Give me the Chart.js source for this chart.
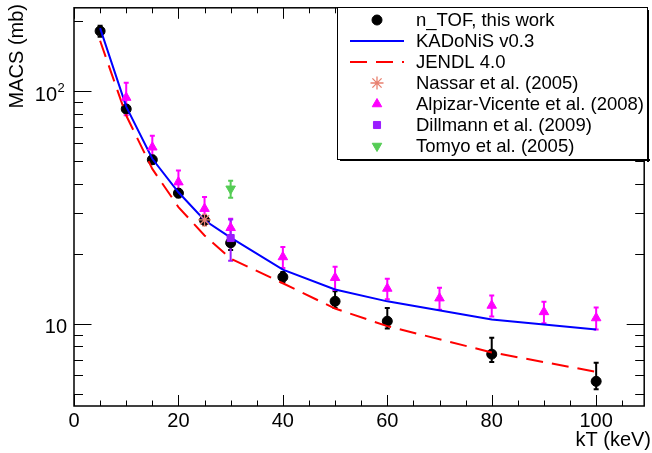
<!DOCTYPE html>
<html>
<head>
<meta charset="utf-8">
<script src="https://cdn.jsdelivr.net/npm/chart.js@4.4.1/dist/chart.umd.min.js"></script>
<style>
  body { margin: 0; background: #fff; }
</style>
</head>
<body>
<canvas id="macs" width="652" height="453"></canvas>
<script>
// n_TOF, this work
const ntofKT = [5, 10, 15, 20, 25, 30, 40, 50, 60, 80, 100];
const ntofMacs = [181.6, 84.0, 50.8, 36.5, 27.9, 22.3, 15.9, 12.5, 10.27, 7.41, 5.66];
const ntofErrUp = [10, 3, 2, 1.5, 1.0, 1.5, 0.8, 1.3, 1.44, 1.3, 1.14];
const ntofErrDown = [10, 3, 2, 1.5, 1.0, 1.5, 0.8, 0.8, 0.72, 0.56, 0.43];

// evaluated curves
const curveKT = [5, 10, 15, 20, 25, 30, 40, 50, 60, 80, 100];
const kadonis = [187, 86, 51.3, 36.8, 27.9, 23.5, 17.1, 14.05, 12.5, 10.45, 9.46];
const jendl = [165, 78.7, 46.4, 31.8, 24.0, 19.1, 14.95, 11.64, 9.78, 7.54, 6.22];

// other measurements
const nassarKT = [25];
const nassarMacs = [28.0];
const nassarErr = [1.5];

const alpizarKT = [10, 15, 20, 25, 30, 40, 50, 60, 70, 80, 90, 100];
const alpizarMacs = [94, 57.5, 40.7, 31.3, 25.9, 19.4, 15.8, 14.2, 12.9, 12.0, 11.26, 10.6];
const alpizarErr = [15, 7, 5, 3.8, 2.4, 2.0, 1.8, 1.45, 1.4, 1.25, 1.2, 1.15];

const dillmannKT = [30];
const dillmannMacs = [23.4];
const dillmannErr = [4.7];

const tomyoKT = [30];
const tomyoMacs = [38.1];
const tomyoErr = [3.2];

const xTicks = [0, 20, 40, 60, 80, 100];

const FONT = '"Liberation Sans", Arial, sans-serif';

function pts(xs, ys) {
    return xs.map(function (x, i) { return { x: x, y: ys[i] }; });
}

const errorBars = [
    { kt: ntofKT, v: ntofMacs, up: ntofErrUp, down: ntofErrDown, color: '#000000' },
    { kt: nassarKT, v: nassarMacs, up: nassarErr, down: nassarErr, color: '#e8806f' },
    { kt: alpizarKT, v: alpizarMacs, up: alpizarErr, down: alpizarErr, color: '#ff00ff' },
    { kt: dillmannKT, v: dillmannMacs, up: dillmannErr, down: dillmannErr, color: '#9a1cff' },
    { kt: tomyoKT, v: tomyoMacs, up: tomyoErr, down: tomyoErr, color: '#55cc55' },
];

const rootPlugin = {
    id: 'rootStyle',
    beforeDatasetsDraw: function (chart) {
        const ctx = chart.ctx;
        const xs = chart.scales.x, ys = chart.scales.y;
        ctx.save();
        ctx.lineWidth = 2;
        errorBars.forEach(function (s) {
            ctx.strokeStyle = s.color;
            s.kt.forEach(function (k, i) {
                const px = xs.getPixelForValue(k);
                const yt = ys.getPixelForValue(s.v[i] + s.up[i]);
                const yb = ys.getPixelForValue(s.v[i] - s.down[i]);
                ctx.beginPath();
                ctx.moveTo(px, yt); ctx.lineTo(px, yb);
                ctx.moveTo(px - 2.5, yt); ctx.lineTo(px + 2.5, yt);
                ctx.moveTo(px - 2.5, yb); ctx.lineTo(px + 2.5, yb);
                ctx.stroke();
            });
        });
        ctx.restore();
    },
    afterDraw: function (chart) {
        const ctx = chart.ctx;
        const a = chart.chartArea;
        const xs = chart.scales.x, ys = chart.scales.y;
        ctx.save();

        // frame
        ctx.strokeStyle = '#000';
        ctx.lineWidth = 1.5;
        ctx.strokeRect(a.left, a.top, a.right - a.left, a.bottom - a.top);

        // x ticks, bottom and top, inward
        ctx.lineWidth = 1;
        for (let v = 0; v <= 105; v += 5) {
            const px = Math.round(xs.getPixelForValue(v)) + 0.5;
            const len = v % 20 === 0 ? 11 : 5.5;
            ctx.beginPath();
            ctx.moveTo(px, a.bottom); ctx.lineTo(px, a.bottom - len);
            ctx.moveTo(px, a.top); ctx.lineTo(px, a.top + len);
            ctx.stroke();
        }
        // y ticks, log
        [5, 6, 7, 8, 9, 10, 20, 30, 40, 50, 60, 70, 80, 90, 100, 200].forEach(function (v) {
            const py = Math.round(ys.getPixelForValue(v)) + 0.5;
            const len = (v === 10 || v === 100) ? 17.5 : 9;
            ctx.beginPath();
            ctx.moveTo(a.left, py); ctx.lineTo(a.left + len, py);
            ctx.moveTo(a.right, py); ctx.lineTo(a.right - len, py);
            ctx.stroke();
        });

        // tick labels
        ctx.fillStyle = '#000';
        ctx.font = '20px ' + FONT;
        ctx.textAlign = 'center';
        ctx.textBaseline = 'alphabetic';
        xTicks.forEach(function (v) {
            ctx.fillText(String(v), xs.getPixelForValue(v), a.bottom + 21);
        });
        ctx.textAlign = 'right';
        const y10 = ys.getPixelForValue(10);
        ctx.fillText('10', 67, y10 + 9.5);
        const y100 = ys.getPixelForValue(100);
        ctx.fillText('10', 57, y100 + 9.5);
        ctx.font = '13px ' + FONT;
        ctx.textAlign = 'left';
        ctx.fillText('2', 57.5, y100 + 0.5);

        // axis titles
        ctx.font = '20px ' + FONT;
        ctx.textAlign = 'right';
        ctx.textBaseline = 'middle';
        ctx.fillText('kT (keV)', 651, 440);
        ctx.save();
        ctx.translate(17, 4);
        ctx.rotate(-Math.PI / 2);
        ctx.textAlign = 'right';
        ctx.fillText('MACS (mb)', 0, 0);
        ctx.restore();

        // legend box
        const lx = 337, ly = 7, lw = 310, lh = 152;
        ctx.fillStyle = '#000';
        ctx.fillRect(lx + 3, ly + lh, lw, 2);
        ctx.fillRect(lx + lw, ly + 3, 2, lh);
        ctx.fillStyle = '#fff';
        ctx.fillRect(lx, ly, lw, lh);
        ctx.strokeStyle = '#000';
        ctx.lineWidth = 1;
        ctx.strokeRect(lx + 0.5, ly + 0.5, lw, lh);

        const symX = 377, textX = 416;
        ctx.font = '18.5px ' + FONT;
        ctx.textBaseline = 'middle';
        ctx.textAlign = 'left';
        chart.data.datasets.forEach(function (ds) {
            const row = ds.legendRow;
            const cy = 20 + row * 21;
            ctx.save();
            if (ds.showLine) {
                ctx.strokeStyle = ds.borderColor;
                ctx.lineWidth = ds.borderWidth;
                ctx.setLineDash(ds.borderDash || []);
                ctx.beginPath();
                ctx.moveTo(350, cy); ctx.lineTo(404, cy);
                ctx.stroke();
            } else {
                ctx.fillStyle = ds.backgroundColor;
                ctx.strokeStyle = ds.borderColor;
                ctx.lineWidth = ds.borderWidth || 1;
                Chart.helpers.drawPoint(ctx, {
                    pointStyle: ds.pointStyle,
                    rotation: ds.rotation || 0,
                    radius: ds.pointRadius,
                    borderWidth: ds.borderWidth || 1
                }, symX, cy);
            }
            ctx.restore();
            ctx.fillStyle = '#000';
            ctx.fillText(ds.label, textX, cy + 1);
        });

        ctx.restore();
    }
};

document.addEventListener("DOMContentLoaded", function () {

    const canvas = document.getElementById("macs");

    // lower order is drawn on top (same stacking as the legend order)
    new Chart(canvas, {
        type: "scatter",
        data: {
            datasets: [
                {
                    label: "n_TOF, this work",
                    legendRow: 0,
                    order: 7,
                    data: pts(ntofKT, ntofMacs),
                    pointStyle: 'circle',
                    pointRadius: 5,
                    backgroundColor: '#000000',
                    borderColor: '#000000',
                    borderWidth: 1,
                },
                {
                    label: "KADoNiS v0.3",
                    legendRow: 1,
                    order: 6,
                    data: pts(curveKT, kadonis),
                    showLine: true,
                    pointRadius: 0,
                    borderColor: '#0000ff',
                    borderWidth: 2,
                    tension: 0,
                },
                {
                    label: "JENDL 4.0",
                    legendRow: 2,
                    order: 5,
                    data: pts(curveKT, jendl),
                    showLine: true,
                    pointRadius: 0,
                    borderColor: '#ff0000',
                    borderWidth: 2,
                    borderDash: [17, 9],
                    tension: 0,
                },
                {
                    label: "Nassar et al. (2005)",
                    legendRow: 3,
                    order: 4,
                    data: pts(nassarKT, nassarMacs),
                    pointStyle: 'star',
                    pointRadius: 6.5,
                    backgroundColor: '#e8806f',
                    borderColor: '#e8806f',
                    borderWidth: 1.3,
                },
                {
                    label: "Alpizar-Vicente et al. (2008)",
                    legendRow: 4,
                    order: 3,
                    data: pts(alpizarKT, alpizarMacs),
                    pointStyle: 'triangle',
                    pointRadius: 5.5,
                    backgroundColor: '#ff00ff',
                    borderColor: '#ff00ff',
                    borderWidth: 1,
                },
                {
                    label: "Dillmann et al. (2009)",
                    legendRow: 5,
                    order: 2,
                    data: pts(dillmannKT, dillmannMacs),
                    pointStyle: 'rect',
                    pointRadius: 5,
                    backgroundColor: '#9a1cff',
                    borderColor: '#9a1cff',
                    borderWidth: 1,
                },
                {
                    label: "Tomyo et al. (2005)",
                    legendRow: 6,
                    order: 1,
                    data: pts(tomyoKT, tomyoMacs),
                    pointStyle: 'triangle',
                    rotation: 180,
                    pointRotation: 180,
                    pointRadius: 5.5,
                    backgroundColor: '#55cc55',
                    borderColor: '#55cc55',
                    borderWidth: 1,
                },
            ],
        },
        options: {
            responsive: false,
            animation: false,
            layout: {
                padding: { left: 74, top: 7, right: 1, bottom: 47 },
            },
            scales: {
                x: { type: 'linear', display: false, min: 0, max: 109.2 },
                y: { type: 'logarithmic', display: false, min: 4.435, max: 228.7 },
            },
            plugins: {
                legend: { display: false },
                tooltip: { enabled: false },
            },
        },
        plugins: [rootPlugin],
    });
});
</script>
</body>
</html>
